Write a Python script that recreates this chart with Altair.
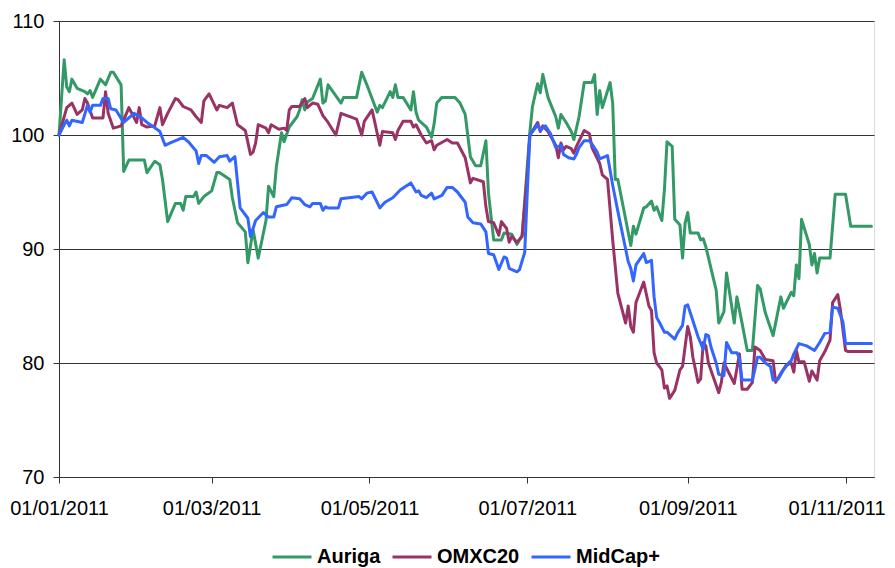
import altair as alt
import pandas as pd

BASE_DATE = "2011-01-01"
SERIES = ["Auriga", "OMXC20", "MidCap+"]
COLORS = ["#339966", "#993366", "#3366FF"]
Y_TICKS = [70, 80, 90, 100, 110]
X_TICK_MONTHS = [1, 3, 5, 7, 9, 11]

# days after 01/01/2011, index values
auriga_days = [0, 2, 3, 4, 5, 7, 10, 11, 12, 13, 16, 18, 20, 21, 24, 25, 26, 27, 33, 34, 37, 39, 40, 42, 45, 47, 48, 49, 52, 53, 54, 56, 59, 61, 62, 66, 67, 69, 72, 73, 75, 77, 80, 81, 83, 84, 86, 87, 89, 92, 93, 94, 95, 96, 98, 101, 102, 103, 104, 109, 110, 115, 117, 119, 121, 123, 124, 125, 128, 129, 130, 131, 133, 136, 137, 138, 139, 142, 144, 145, 146, 148, 153, 155, 157, 159, 161, 163, 165, 166, 168, 171, 172, 175, 177, 179, 182, 183, 185, 186, 187, 189, 192, 193, 194, 196, 198, 199, 201, 203, 206, 207, 208, 209, 210, 213, 214, 215, 216, 221, 222, 223, 226, 227, 229, 230, 231, 233, 234, 235, 237, 238, 240, 241, 242, 243, 244, 247, 248, 249, 250, 254, 255, 257, 258, 261, 262, 264, 266, 268, 270, 271, 273, 276, 279, 280, 283, 284, 285, 286, 287, 290, 291, 292, 293, 294, 298, 300, 304, 306, 314]
auriga_vals = [100.0, 106.6, 104.2, 103.8, 104.9, 104.1, 103.8, 103.6, 103.9, 103.3, 104.9, 104.4, 105.5, 105.5, 104.4, 96.8, 97.3, 97.8, 97.8, 96.7, 97.7, 97.4, 96.1, 92.4, 94.0, 94.0, 93.4, 94.6, 94.6, 95.0, 94.0, 94.6, 95.1, 96.7, 96.7, 96.1, 94.5, 92.3, 91.5, 88.8, 91.7, 89.2, 92.5, 95.5, 94.6, 97.2, 100.2, 99.4, 100.7, 101.6, 102.2, 103.1, 102.2, 102.9, 103.2, 104.9, 102.8, 103.0, 104.4, 102.8, 103.3, 103.3, 105.5, 104.4, 103.2, 102.0, 102.6, 102.4, 103.8, 103.3, 104.4, 103.3, 103.3, 102.2, 103.8, 102.0, 101.3, 100.7, 99.8, 101.0, 102.8, 103.3, 103.3, 102.8, 101.8, 98.1, 97.3, 97.3, 99.5, 94.9, 90.8, 90.8, 91.4, 91.3, 90.4, 91.2, 100.3, 102.5, 104.5, 103.7, 105.3, 103.3, 101.6, 100.6, 101.8, 101.1, 100.3, 99.6, 101.6, 104.6, 104.6, 105.3, 101.8, 103.9, 102.4, 104.6, 102.8, 96.1, 96.1, 90.3, 92.0, 91.3, 93.6, 93.7, 94.2, 93.4, 93.7, 92.5, 95.2, 99.4, 99.0, 92.6, 92.1, 89.2, 92.3, 93.2, 91.4, 91.4, 90.8, 90.9, 90.2, 86.4, 83.5, 84.5, 87.9, 83.5, 85.8, 83.5, 81.1, 81.1, 86.8, 86.5, 84.4, 82.4, 85.8, 84.8, 86.2, 85.9, 88.6, 87.4, 92.6, 90.4, 88.6, 89.6, 87.9, 89.2, 89.2, 94.8, 94.8, 92.0, 92.0]

omx_days = [0, 3, 5, 7, 9, 10, 11, 13, 17, 18, 19, 21, 24, 25, 27, 30, 31, 32, 34, 37, 39, 40, 42, 45, 46, 48, 51, 53, 55, 56, 58, 61, 62, 65, 67, 69, 72, 74, 75, 76, 77, 80, 81, 82, 85, 87, 88, 89, 90, 93, 95, 96, 98, 100, 102, 104, 107, 109, 115, 117, 118, 121, 124, 125, 129, 130, 131, 133, 136, 137, 138, 140, 142, 144, 145, 146, 150, 152, 154, 157, 159, 160, 164, 165, 166, 168, 170, 171, 173, 174, 175, 177, 179, 181, 182, 185, 186, 187, 189, 192, 193, 194, 195, 196, 198, 199, 200, 203, 205, 206, 209, 210, 212, 214, 216, 219, 220, 221, 222, 223, 226, 228, 229, 230, 231, 233, 234, 235, 236, 238, 240, 241, 243, 244, 245, 247, 248, 249, 250, 251, 255, 256, 257, 261, 263, 264, 266, 268, 269, 271, 273, 276, 277, 279, 281, 283, 284, 285, 286, 288, 290, 291, 293, 294, 296, 298, 299, 301, 302, 304, 305, 314]
omx_vals = [100.0, 102.4, 102.8, 101.8, 102.2, 103.2, 102.8, 101.5, 101.5, 103.8, 101.9, 100.6, 100.8, 101.3, 102.4, 101.1, 102.4, 100.9, 100.7, 100.8, 102.4, 100.9, 101.9, 103.2, 103.1, 102.5, 102.2, 101.6, 101.1, 103.0, 103.6, 102.2, 102.6, 102.4, 102.8, 100.9, 100.4, 98.3, 98.5, 99.3, 100.9, 100.6, 100.2, 100.9, 100.5, 100.6, 100.4, 102.2, 102.5, 102.5, 103.2, 102.4, 102.8, 102.7, 101.7, 101.1, 100.0, 101.9, 101.4, 100.0, 101.2, 102.2, 99.1, 100.3, 100.2, 99.6, 100.4, 101.2, 101.2, 100.7, 100.9, 100.0, 99.3, 99.5, 98.7, 99.1, 99.6, 99.3, 99.3, 98.0, 95.8, 96.2, 95.9, 93.7, 92.4, 92.3, 91.2, 92.4, 91.8, 90.6, 91.1, 90.6, 91.1, 96.5, 100.0, 101.1, 100.3, 100.8, 100.3, 99.1, 98.0, 99.3, 98.7, 99.0, 98.8, 98.4, 99.0, 100.4, 100.1, 98.9, 97.5, 96.5, 96.1, 90.8, 86.1, 83.5, 85.0, 83.2, 82.7, 85.3, 87.1, 85.0, 84.6, 80.9, 80.0, 79.4, 77.8, 78.0, 76.9, 77.6, 79.4, 79.7, 83.2, 82.3, 80.5, 78.3, 78.6, 81.8, 81.5, 80.0, 77.4, 78.3, 80.0, 78.2, 80.8, 77.7, 77.7, 78.3, 81.4, 81.1, 80.3, 80.2, 78.3, 79.1, 79.8, 80.0, 79.2, 81.1, 80.1, 80.1, 78.4, 79.3, 78.5, 80.2, 81.0, 82.0, 85.3, 86.0, 84.7, 81.1, 81.0, 81.0]

mid_days = [0, 2, 3, 4, 5, 9, 11, 12, 13, 16, 17, 19, 20, 22, 25, 27, 29, 32, 34, 36, 39, 41, 43, 46, 48, 50, 53, 54, 55, 57, 60, 62, 65, 66, 68, 70, 73, 74, 76, 79, 81, 83, 84, 88, 90, 93, 95, 97, 98, 101, 102, 103, 104, 108, 109, 116, 117, 119, 121, 124, 126, 129, 132, 136, 138, 139, 140, 142, 144, 145, 148, 150, 152, 154, 157, 158, 160, 163, 165, 166, 168, 170, 172, 173, 174, 177, 178, 180, 181, 182, 185, 186, 188, 190, 192, 194, 195, 197, 199, 200, 201, 203, 205, 206, 208, 209, 212, 214, 216, 218, 220, 221, 222, 223, 226, 227, 229, 230, 231, 232, 234, 235, 238, 239, 241, 242, 243, 245, 247, 249, 250, 251, 252, 254, 255, 257, 258, 260, 262, 263, 264, 266, 268, 270, 271, 273, 275, 276, 278, 280, 282, 283, 284, 286, 289, 292, 294, 296, 298, 299, 301, 303, 304, 314]
mid_vals = [100.0, 100.9, 101.3, 100.8, 101.3, 101.1, 102.6, 102.0, 102.6, 102.6, 103.2, 103.2, 102.3, 102.2, 101.1, 101.5, 101.9, 101.5, 101.1, 100.8, 100.3, 99.1, 99.3, 99.6, 99.8, 99.4, 98.6, 97.5, 98.2, 98.2, 97.6, 98.1, 98.2, 97.7, 98.1, 93.6, 92.7, 91.1, 92.5, 93.2, 92.8, 92.8, 93.7, 93.9, 94.5, 94.4, 93.9, 93.7, 94.0, 94.0, 93.4, 93.7, 93.6, 93.6, 94.4, 94.6, 94.4, 94.9, 95.0, 93.6, 94.1, 94.5, 95.2, 95.8, 95.0, 95.1, 94.7, 94.5, 94.9, 94.4, 94.7, 95.4, 95.4, 95.0, 94.1, 92.8, 92.3, 92.2, 91.5, 89.6, 89.5, 88.2, 89.3, 89.2, 88.3, 88.0, 88.2, 89.7, 95.0, 100.0, 100.9, 100.4, 100.8, 100.1, 98.9, 99.1, 98.3, 98.0, 97.9, 98.3, 98.9, 99.5, 99.5, 99.2, 98.5, 97.9, 98.2, 95.6, 93.3, 91.1, 88.9, 88.3, 87.2, 88.6, 89.6, 88.8, 89.0, 85.8, 84.0, 83.6, 82.7, 82.7, 82.1, 82.6, 83.3, 85.0, 85.1, 83.7, 82.3, 81.2, 82.5, 82.4, 81.4, 80.0, 79.0, 78.9, 81.8, 80.9, 80.9, 80.4, 78.5, 78.5, 78.5, 80.5, 80.5, 80.0, 79.7, 78.5, 78.6, 79.4, 80.0, 80.2, 80.8, 81.7, 81.5, 81.1, 81.8, 82.6, 82.7, 84.9, 84.8, 83.6, 81.7, 81.7]

base = pd.Timestamp(BASE_DATE)


def frame(name, days, vals):
    return pd.DataFrame({
        "date": [(base + pd.Timedelta(days=d)).strftime("%Y-%m-%d") for d in days],
        "value": vals,
        "series": name,
    })


df = pd.concat([
    frame("Auriga", auriga_days, auriga_vals),
    frame("OMXC20", omx_days, omx_vals),
    frame("MidCap+", mid_days, mid_vals),
], ignore_index=True)

FONT = "Liberation Sans"
AXIS_COLOR = "#333333"

x_ticks = [alt.DateTime(year=2011, month=m, date=1, utc=True) for m in X_TICK_MONTHS]

# nudge the last date label so it stays inside the drawing
last_label_offset = {"condition": {"test": "utcmonth(datum.value) == 10", "value": -9}, "value": 0}

chart = alt.Chart(df).mark_line(strokeWidth=3, strokeJoin="round", strokeCap="round").encode(
    x=alt.X(
        "date:T",
        scale=alt.Scale(
            type="utc",
            domain=[alt.DateTime(year=2011, month=1, date=1, utc=True),
                    alt.DateTime(year=2011, month=11, date=12, utc=True)],
        ),
        axis=alt.Axis(
            values=x_ticks, format="%d/%m/%Y", title=None, grid=False,
            labelFont=FONT, labelFontSize=20, labelColor="#000000",
            labelPadding=15, tickSize=6, tickColor=AXIS_COLOR,
            domainColor=AXIS_COLOR, labelOverlap=False, labelFlush=False,
            labelOffset=last_label_offset,
        ),
    ),
    y=alt.Y(
        "value:Q",
        scale=alt.Scale(domain=[70, 110], nice=False, zero=False),
        axis=alt.Axis(
            values=Y_TICKS, title=None, grid=True, gridColor=AXIS_COLOR,
            gridWidth=1, gridOpacity=1,
            labelFont=FONT, labelFontSize=20, labelColor="#000000",
            labelPadding=9, tickSize=6, tickColor=AXIS_COLOR,
            domainColor=AXIS_COLOR,
        ),
    ),
    color=alt.Color(
        "series:N",
        scale=alt.Scale(domain=SERIES, range=COLORS),
        legend=alt.Legend(
            title=None, orient="none", direction="horizontal",
            legendX=212, legendY=515,
            symbolType="stroke", symbolSize=1521, symbolStrokeWidth=3,
            labelFont=FONT, labelFontSize=20, labelFontWeight="bold",
            labelColor="#000000", labelOffset=4, columnPadding=5,
        ),
    ),
).properties(
    width=815,
    height=456,
    autosize=alt.AutoSizeParams(type="none"),
    padding={"left": 51, "top": 13, "right": 13, "bottom": 100},
).configure_view(stroke=None).configure(background="white")

chart.save("out.html", embed_options={"renderer": "svg", "actions": False})
